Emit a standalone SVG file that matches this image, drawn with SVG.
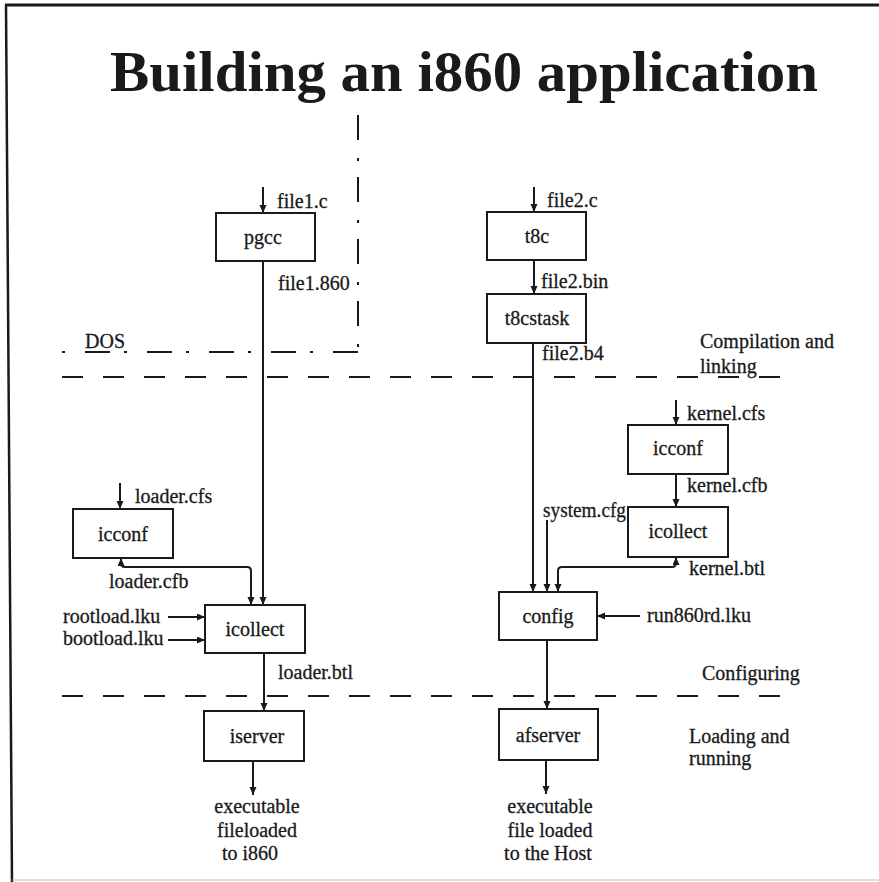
<svg xmlns="http://www.w3.org/2000/svg" width="879" height="882" viewBox="0 0 879 882">
<defs>
<marker id="ah" markerUnits="userSpaceOnUse" markerWidth="9" markerHeight="8" refX="8" refY="3.5" orient="auto-start-reverse">
<path d="M0,0 L8,3.5 L0,7 z" fill="#1a1a1a"/>
</marker>
</defs>
<style>
.box{fill:#fff;stroke:#1a1a1a;stroke-width:2}
.t{font-family:"Liberation Serif","Times New Roman",serif;font-size:20px;fill:#1a1a1a;stroke:#1a1a1a;stroke-width:0.3}
.c{text-anchor:middle}
.ln{fill:none;stroke:#1a1a1a;stroke-width:2}
.arr{fill:none;stroke:#1a1a1a;stroke-width:2;marker-end:url(#ah)}
.bi{fill:none;stroke:#1a1a1a;stroke-width:2;marker-end:url(#ah);marker-start:url(#ah)}
.dash{fill:none;stroke:#1a1a1a;stroke-width:2;stroke-dasharray:21 20}
</style>
<rect width="879" height="882" fill="#fff"/>
<g id="frame">
<line x1="5" y1="5" x2="879" y2="5" stroke="#1a1a1a" stroke-width="3"/>
<line x1="6" y1="5" x2="12" y2="882" stroke="#1a1a1a" stroke-width="2.5"/>
<line x1="12" y1="880" x2="879" y2="880" stroke="#bbb" stroke-width="1"/>
</g>
<text id="title" x="110" y="91" textLength="708" lengthAdjust="spacingAndGlyphs" font-family="'Liberation Serif','Times New Roman',serif" font-weight="bold" font-size="58" fill="#1a1a1a">Building an i860 application</text>
<g id="zones">
<line x1="358" y1="115" x2="358" y2="352" class="ln" stroke-dasharray="25 18 3 16"/>
<line x1="62" y1="352" x2="358" y2="352" class="ln" stroke-dasharray="3 20 25 14"/>
<text class="t" x="85" y="348">DOS</text>
<line x1="62" y1="377" x2="785" y2="377" class="dash"/>
<text class="t" x="700" y="348">Compilation and</text>
<text class="t" x="700" y="373">linking</text>
<line x1="62" y1="696" x2="785" y2="696" class="dash"/>
<text class="t" x="702" y="680">Configuring</text>
<text class="t" x="689" y="743">Loading and</text>
<text class="t" x="689" y="765">running</text>
</g>
<g id="connectors">
<line x1="263" y1="187" x2="263" y2="213" class="arr"/>
<line x1="263" y1="261" x2="263" y2="605" class="arr"/>
<line x1="120" y1="483" x2="120" y2="509" class="arr"/>
<path d="M121,558 V563 Q121,567 125,567 H247 Q251,567 251,571 V605" class="bi"/>
<line x1="168" y1="617" x2="205" y2="617" class="arr"/>
<line x1="168" y1="640" x2="205" y2="640" class="arr"/>
<line x1="264" y1="653" x2="264" y2="711" class="arr"/>
<line x1="253" y1="761" x2="253" y2="795" class="arr"/>
<line x1="534" y1="187" x2="534" y2="212" class="arr"/>
<line x1="534" y1="260" x2="534" y2="294" class="arr"/>
<line x1="533" y1="343" x2="533" y2="592" class="arr"/>
<line x1="676" y1="400" x2="676" y2="425" class="arr"/>
<line x1="676" y1="474" x2="676" y2="507" class="arr"/>
<path d="M676,557 V563 Q676,567 672,567 H562 Q558,567 558,571 V592" class="bi"/>
<line x1="547" y1="520" x2="547" y2="592" class="arr"/>
<line x1="640" y1="616" x2="597" y2="616" class="arr"/>
<line x1="547" y1="640" x2="547" y2="709" class="arr"/>
<line x1="546" y1="760" x2="546" y2="794" class="arr"/>
</g>
<g id="pgcc"><rect class="box" x="216" y="213" width="99" height="48"/><text class="t c" x="263" y="244">pgcc</text></g>
<g id="t8c"><rect class="box" x="487" y="212" width="99" height="48"/><text class="t c" x="537" y="243">t8c</text></g>
<g id="t8cstask"><rect class="box" x="487" y="294" width="99" height="49"/><text class="t c" x="537" y="325">t8cstask</text></g>
<g id="icconf-left"><rect class="box" x="73" y="509" width="100" height="49"/><text class="t c" x="123" y="541">icconf</text></g>
<g id="icollect-left"><rect class="box" x="205" y="605" width="100" height="48"/><text class="t c" x="255" y="636">icollect</text></g>
<g id="iserver"><rect class="box" x="204" y="711" width="100" height="50"/><text class="t c" x="257" y="743">iserver</text></g>
<g id="icconf-right"><rect class="box" x="628" y="425" width="100" height="49"/><text class="t c" x="678" y="455">icconf</text></g>
<g id="icollect-right"><rect class="box" x="628" y="507" width="100" height="50"/><text class="t c" x="678" y="538">icollect</text></g>
<g id="config"><rect class="box" x="499" y="592" width="98" height="48"/><text class="t c" x="548" y="623">config</text></g>
<g id="afserver"><rect class="box" x="499" y="709" width="99" height="51"/><text class="t c" x="548" y="742">afserver</text></g>
<g id="labels">
<text class="t" x="277" y="208">file1.c</text>
<text class="t" x="278" y="290">file1.860</text>
<text class="t" x="547" y="207">file2.c</text>
<text class="t" x="541" y="288">file2.bin</text>
<text class="t" x="542" y="360">file2.b4</text>
<text class="t" x="135" y="503">loader.cfs</text>
<text class="t" x="109" y="588">loader.cfb</text>
<text class="t" x="63" y="623">rootload.lku</text>
<text class="t" x="63" y="645">bootload.lku</text>
<text class="t" x="278" y="679">loader.btl</text>
<text class="t" x="687" y="420">kernel.cfs</text>
<text class="t" x="687" y="492">kernel.cfb</text>
<text class="t" x="543" y="517" textLength="83" lengthAdjust="spacingAndGlyphs">system.cfg</text>
<text class="t" x="689" y="575">kernel.btl</text>
<text class="t" x="647" y="622">run860rd.lku</text>
<text class="t c" x="257" y="813">executable</text>
<text class="t c" x="257" y="837">fileloaded</text>
<text class="t c" x="250" y="860">to i860</text>
<text class="t c" x="550" y="813">executable</text>
<text class="t c" x="550" y="837">file loaded</text>
<text class="t c" x="548" y="860">to the Host</text>
</g>
</svg>
